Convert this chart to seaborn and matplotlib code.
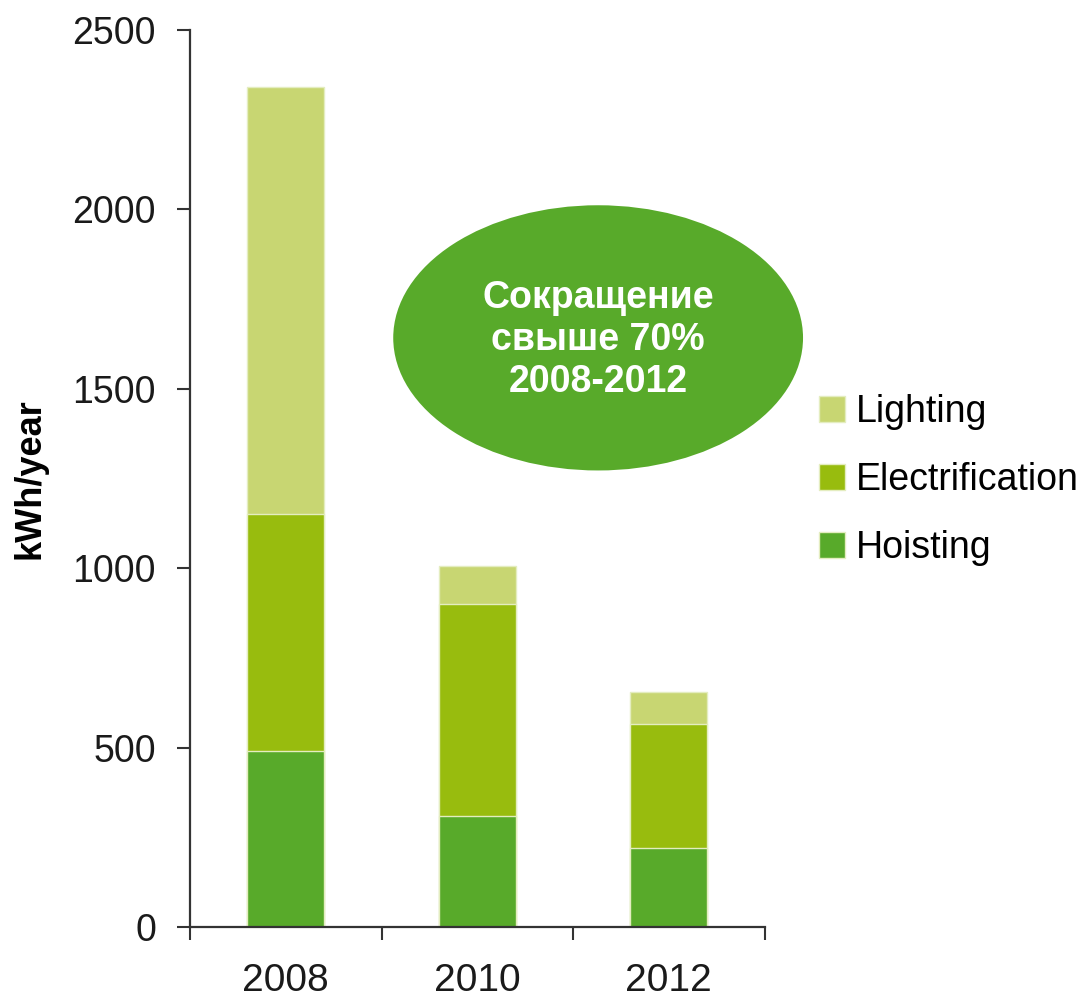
import matplotlib
matplotlib.use("Agg")
import matplotlib.pyplot as plt
from matplotlib.patches import Ellipse, Patch
import numpy as np
import pandas as pd
import seaborn as sns

###################################### DATA ######################################
years = ["2008", "2010", "2012"]
hoisting = [490, 310, 220]
electrification = [660, 590, 345]
lighting = [1190, 105, 90]
series_names = ["Lighting", "Electrification", "Hoisting"]
y_ticks = [0, 500, 1000, 1500, 2000, 2500]
y_label = "kWh/year"
note_text = "Сокращение\nсвыше 70%\n2008-2012"

colors = {"Lighting": "#c8d672", "Electrification": "#98bc0e", "Hoisting": "#58aa2a"}
ellipse_color = "#58aa2a"

# cumulative heights for the stacked look
df = pd.DataFrame({"year": years, "Hoisting": hoisting,
                   "Electrification": electrification, "Lighting": lighting})
df["cum_hoist"] = df["Hoisting"]
df["cum_elec"] = df["cum_hoist"] + df["Electrification"]
df["cum_light"] = df["cum_elec"] + df["Lighting"]

###################################### PLOT ######################################
sns.set(style="white")
plt.rcParams["font.family"] = ["Liberation Sans", "DejaVu Sans"]
plt.rcParams["text.color"] = "black"
plt.rcParams["xtick.color"] = "black"
plt.rcParams["ytick.color"] = "black"
plt.rcParams["axes.labelcolor"] = "black"

fig = plt.figure(figsize=(10.86, 9.98), dpi=100)
ax = fig.add_axes([0.175, 0.071, 0.529, 0.899])

edge = dict(edgecolor="#e4edc0", linewidth=1.0)
# tallest first, then the lower stacks over it
sns.barplot(data=df, x="year", y="cum_light", color=colors["Lighting"],
            saturation=1, width=0.4, ax=ax, **edge)
sns.barplot(data=df, x="year", y="cum_elec", color=colors["Electrification"],
            saturation=1, width=0.4, ax=ax, **edge)
sns.barplot(data=df, x="year", y="cum_hoist", color=colors["Hoisting"],
            saturation=1, width=0.4, ax=ax, **edge)

ax.set_xlim(-0.5, 2.5)
ax.set_ylim(0, 2500)
ax.set_yticks(y_ticks)
ax.set_xlabel("")
ax.set_ylabel(y_label, fontsize=26, fontweight="bold", labelpad=18)

for s in ["top", "right"]:
    ax.spines[s].set_visible(False)
for s in ["left", "bottom"]:
    ax.spines[s].set_color("#333333")
    ax.spines[s].set_linewidth(1.6)

ax.tick_params(axis="y", direction="out", length=9.5, width=1.5, color="#333333",
               labelsize=27, pad=15, left=True, labelcolor="#1a1a1a")
ax.tick_params(axis="x", which="major", length=0, labelsize=28, pad=26,
               labelcolor="#1a1a1a")
ax.set_xticks([-0.5, 0.5, 1.5, 2.5], minor=True)
ax.tick_params(axis="x", which="minor", direction="out", length=9.5, width=1.5,
               color="#333333", bottom=True)

# green ellipse with the note
ell = Ellipse((1.631, 1642), width=2.14, height=739, facecolor=ellipse_color,
              edgecolor="none", clip_on=False, zorder=5)
ax.add_patch(ell)
ax.text(1.631, 1636, note_text, color="white", fontsize=27, fontweight="bold",
        ha="center", va="center", linespacing=1.23, zorder=6,
        family=["Liberation Sans", "DejaVu Sans"])

# legend
handles = [Patch(facecolor=colors[n], edgecolor="#e4edc0", label=n) for n in series_names]
fig.legend(handles=handles, loc="upper left", bbox_to_anchor=(0.754, 0.605),
           frameon=False, fontsize=27, handlelength=0.7, handleheight=0.7,
           handletextpad=0.3, labelspacing=0.85, borderpad=0, borderaxespad=0,
           labelcolor="black")

plt.savefig("out.png", dpi=100)
